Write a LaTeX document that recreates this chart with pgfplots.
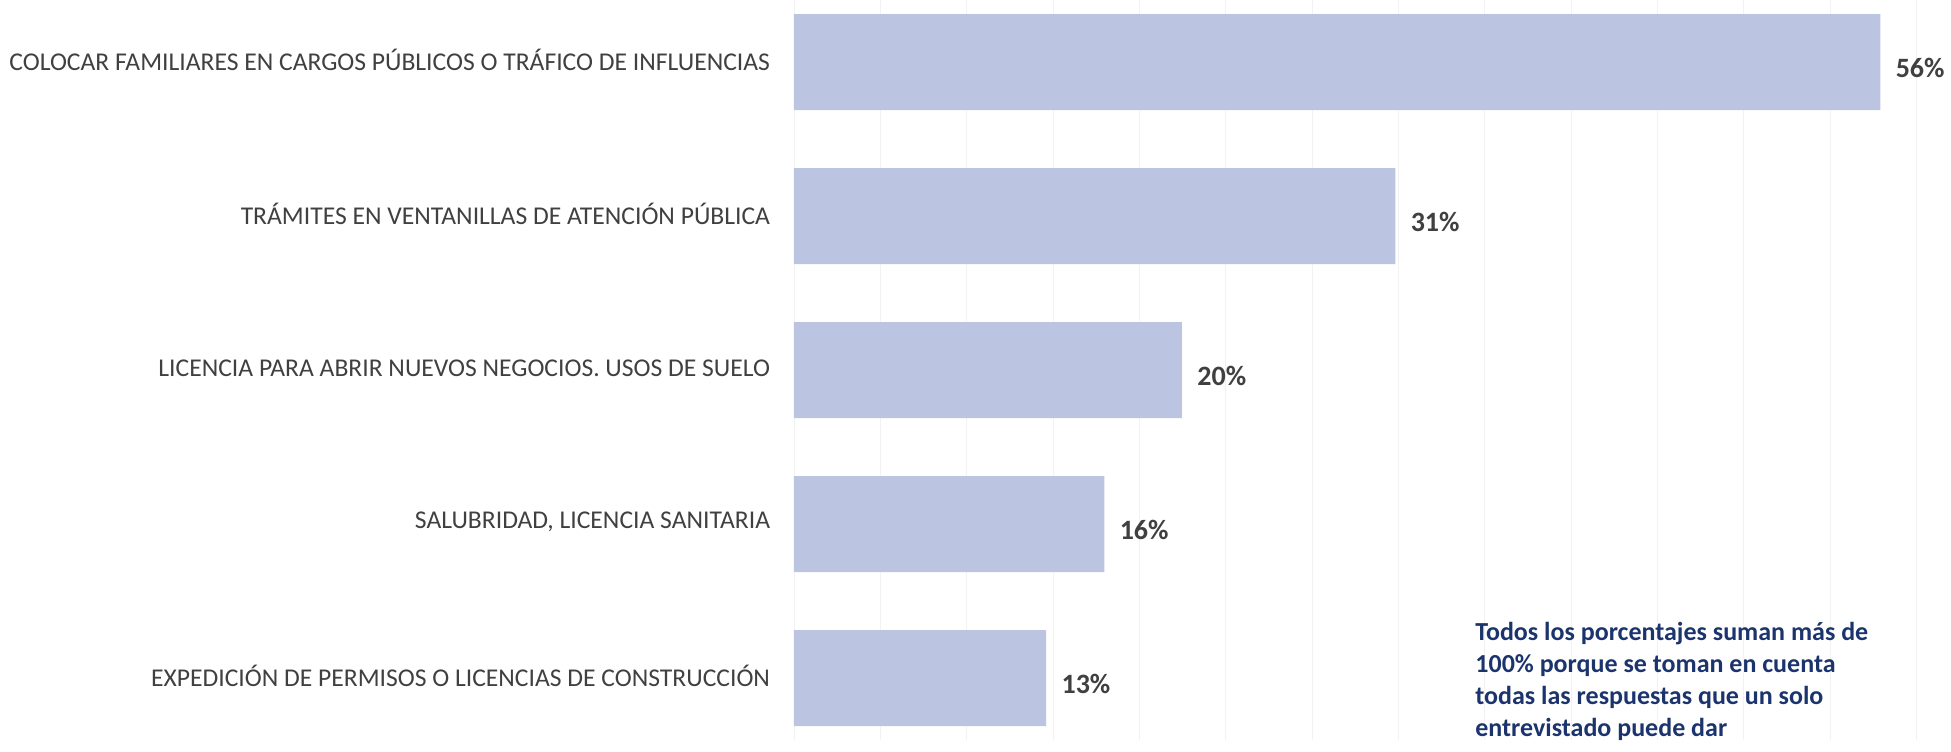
\documentclass[border=0pt]{standalone}
\usepackage{fontspec}
\setmainfont{Carlito}
\usepackage{pgfplots}
\pgfplotsset{compat=1.18}
\definecolor{barfill}{RGB}{187,196,224}
\definecolor{labtxt}{RGB}{64,64,64}
\definecolor{notetxt}{RGB}{28,52,110}
\begin{document}
\begin{tikzpicture}
\useasboundingbox (0,0) rectangle (975.5pt,375.5pt);
\begin{axis}[
  scale only axis, width=562.6pt, height=369.6pt,
  anchor=south west, at={(397pt,5.7pt)},
  xbar, bar width=48pt,
  xmin=0, xmax=58, ymin=-0.4, ymax=4.4, y dir=reverse,
  axis line style={draw=none},
  tick style={draw=none},
  xtick={0,4.45,...,57}, xticklabels={},
  xmajorgrids, grid style={black!5, line width=0.4pt},
  ytick={0,1,2,3,4},
  yticklabels={COLOCAR FAMILIARES EN CARGOS PÚBLICOS O TRÁFICO DE INFLUENCIAS,
    TRÁMITES EN VENTANILLAS DE ATENCIÓN PÚBLICA,
    LICENCIA PARA ABRIR NUEVOS NEGOCIOS. USOS DE SUELO,
    {SALUBRIDAD, LICENCIA SANITARIA},
    EXPEDICIÓN DE PERMISOS O LICENCIAS DE CONSTRUCCIÓN},
  yticklabel style={font=\fontsize{12.8}{15}\selectfont, text=labtxt, inner sep=0pt, xshift=-7.5pt, yshift=1pt, anchor=east},
  clip=false,
  point meta=explicit symbolic,
  nodes near coords,
  nodes near coords style={font=\fontsize{14}{16}\selectfont\bfseries, text=labtxt, anchor=west, inner sep=0pt, xshift=7.5pt, yshift=-3pt},
]
\addplot[fill=barfill, draw=none] coordinates {(56,0) [56\%] (31,1) [31\%] (20,2) [20\%] (16,3) [16\%] (13,4) [13\%]};
\end{axis}
\node[anchor=north west, align=left, inner sep=0pt, text=notetxt, font=\fontsize{13}{16}\selectfont\bfseries] at (737.5pt,64.5pt)
  {Todos los porcentajes suman más de\\100\% porque se toman en cuenta\\todas las respuestas que un solo\\entrevistado puede dar};
\end{tikzpicture}
\end{document}
